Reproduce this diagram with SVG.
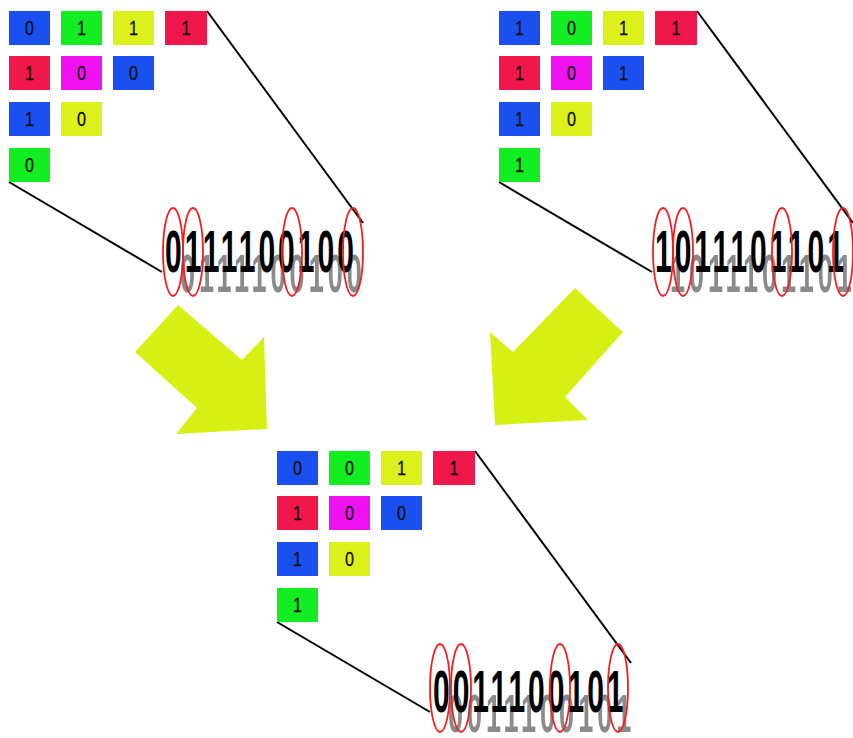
<svg xmlns="http://www.w3.org/2000/svg" width="853" height="738" viewBox="0 0 853 738">
<defs>
<style>
.bl{fill:#1a4ff0}.gr{fill:#12ee22}.ye{fill:#dcf01c}.rd{fill:#f0184a}.mg{fill:#f012f0}
.d{font-family:"Liberation Sans",Arial,sans-serif;font-size:20px;fill:#111;text-anchor:middle;stroke:#111;stroke-width:0.3}
.big{font-family:"Liberation Sans",Arial,sans-serif;font-weight:bold;font-size:60px;fill:#000;letter-spacing:6px}
.sh{font-family:"Liberation Sans",Arial,sans-serif;font-weight:bold;font-size:54px;fill:#8a8a8a;letter-spacing:8px;filter:url(#blur)}
.ln{stroke:#000;stroke-width:2;fill:none}
.el{stroke:#f02020;stroke-width:1.8;fill:none}
.ar{fill:#d6f014}
</style>
<filter id="blur" x="-5%" y="-5%" width="110%" height="110%"><feGaussianBlur stdDeviation="0.6"/></filter>
</defs>
<rect width="853" height="738" fill="#fff"/>

<g id="parent1">
<line class="ln" x1="207" y1="11" x2="363" y2="223"/>
<line class="ln" x1="9" y1="182" x2="162" y2="272"/>
<rect class="bl" x="9" y="11" width="41" height="34"/><text class="d" x="29.5" y="35" textLength="9" lengthAdjust="spacingAndGlyphs">0</text>
<rect class="gr" x="61" y="11" width="41" height="34"/><text class="d" x="81.5" y="35" textLength="9" lengthAdjust="spacingAndGlyphs">1</text>
<rect class="ye" x="113" y="11" width="41" height="34"/><text class="d" x="133.5" y="35" textLength="9" lengthAdjust="spacingAndGlyphs">1</text>
<rect class="rd" x="165" y="11" width="42" height="34"/><text class="d" x="186" y="35" textLength="9" lengthAdjust="spacingAndGlyphs">1</text>
<rect class="rd" x="9" y="56" width="41" height="34"/><text class="d" x="29.5" y="80" textLength="9" lengthAdjust="spacingAndGlyphs">1</text>
<rect class="mg" x="61" y="56" width="41" height="34"/><text class="d" x="81.5" y="80" textLength="9" lengthAdjust="spacingAndGlyphs">0</text>
<rect class="bl" x="113" y="56" width="41" height="34"/><text class="d" x="133.5" y="80" textLength="9" lengthAdjust="spacingAndGlyphs">0</text>
<rect class="bl" x="9" y="102" width="41" height="34"/><text class="d" x="29.5" y="126" textLength="9" lengthAdjust="spacingAndGlyphs">1</text>
<rect class="ye" x="61" y="102" width="41" height="34"/><text class="d" x="81.5" y="126" textLength="9" lengthAdjust="spacingAndGlyphs">0</text>
<rect class="gr" x="9" y="148" width="41" height="34"/><text class="d" x="29.5" y="172" textLength="9" lengthAdjust="spacingAndGlyphs">0</text>
<text class="sh" transform="translate(180,292) scale(0.5,1)">0111100100</text>
<text class="big" transform="translate(165,272) scale(0.5,1)">0111100100</text>
<ellipse class="el" cx="173" cy="252" rx="10" ry="44"/>
<ellipse class="el" cx="193" cy="252" rx="10" ry="44"/>
<ellipse class="el" cx="292" cy="252" rx="10" ry="44"/>
<ellipse class="el" cx="353" cy="252" rx="10" ry="44"/>
</g>

<g id="parent2" transform="translate(490,0)">
<line class="ln" x1="207" y1="11" x2="363" y2="223"/>
<line class="ln" x1="9" y1="182" x2="162" y2="272"/>
<rect class="bl" x="9" y="11" width="41" height="34"/><text class="d" x="29.5" y="35" textLength="9" lengthAdjust="spacingAndGlyphs">1</text>
<rect class="gr" x="61" y="11" width="41" height="34"/><text class="d" x="81.5" y="35" textLength="9" lengthAdjust="spacingAndGlyphs">0</text>
<rect class="ye" x="113" y="11" width="41" height="34"/><text class="d" x="133.5" y="35" textLength="9" lengthAdjust="spacingAndGlyphs">1</text>
<rect class="rd" x="165" y="11" width="42" height="34"/><text class="d" x="186" y="35" textLength="9" lengthAdjust="spacingAndGlyphs">1</text>
<rect class="rd" x="9" y="56" width="41" height="34"/><text class="d" x="29.5" y="80" textLength="9" lengthAdjust="spacingAndGlyphs">1</text>
<rect class="mg" x="61" y="56" width="41" height="34"/><text class="d" x="81.5" y="80" textLength="9" lengthAdjust="spacingAndGlyphs">0</text>
<rect class="bl" x="113" y="56" width="41" height="34"/><text class="d" x="133.5" y="80" textLength="9" lengthAdjust="spacingAndGlyphs">1</text>
<rect class="bl" x="9" y="102" width="41" height="34"/><text class="d" x="29.5" y="126" textLength="9" lengthAdjust="spacingAndGlyphs">1</text>
<rect class="ye" x="61" y="102" width="41" height="34"/><text class="d" x="81.5" y="126" textLength="9" lengthAdjust="spacingAndGlyphs">0</text>
<rect class="gr" x="9" y="148" width="41" height="34"/><text class="d" x="29.5" y="172" textLength="9" lengthAdjust="spacingAndGlyphs">1</text>
<text class="sh" transform="translate(180,292) scale(0.5,1)">1011101101</text>
<text class="big" transform="translate(165,272) scale(0.5,1)">1011101101</text>
<ellipse class="el" cx="173" cy="252" rx="10" ry="44"/>
<ellipse class="el" cx="193" cy="252" rx="10" ry="44"/>
<ellipse class="el" cx="292" cy="252" rx="10" ry="44"/>
<ellipse class="el" cx="353" cy="252" rx="10" ry="44"/>
</g>

<g id="child" transform="translate(268,440)">
<line class="ln" x1="207" y1="11" x2="363" y2="223"/>
<line class="ln" x1="9" y1="182" x2="162" y2="272"/>
<rect class="bl" x="9" y="11" width="41" height="34"/><text class="d" x="29.5" y="35" textLength="9" lengthAdjust="spacingAndGlyphs">0</text>
<rect class="gr" x="61" y="11" width="41" height="34"/><text class="d" x="81.5" y="35" textLength="9" lengthAdjust="spacingAndGlyphs">0</text>
<rect class="ye" x="113" y="11" width="41" height="34"/><text class="d" x="133.5" y="35" textLength="9" lengthAdjust="spacingAndGlyphs">1</text>
<rect class="rd" x="165" y="11" width="42" height="34"/><text class="d" x="186" y="35" textLength="9" lengthAdjust="spacingAndGlyphs">1</text>
<rect class="rd" x="9" y="56" width="41" height="34"/><text class="d" x="29.5" y="80" textLength="9" lengthAdjust="spacingAndGlyphs">1</text>
<rect class="mg" x="61" y="56" width="41" height="34"/><text class="d" x="81.5" y="80" textLength="9" lengthAdjust="spacingAndGlyphs">0</text>
<rect class="bl" x="113" y="56" width="41" height="34"/><text class="d" x="133.5" y="80" textLength="9" lengthAdjust="spacingAndGlyphs">0</text>
<rect class="bl" x="9" y="102" width="41" height="34"/><text class="d" x="29.5" y="126" textLength="9" lengthAdjust="spacingAndGlyphs">1</text>
<rect class="ye" x="61" y="102" width="41" height="34"/><text class="d" x="81.5" y="126" textLength="9" lengthAdjust="spacingAndGlyphs">0</text>
<rect class="gr" x="9" y="148" width="41" height="34"/><text class="d" x="29.5" y="172" textLength="9" lengthAdjust="spacingAndGlyphs">1</text>
<text class="sh" transform="translate(180,292) scale(0.5,1)">0011100101</text>
<text class="big" transform="translate(165,272) scale(0.5,1)">0011100101</text>
<ellipse class="el" cx="172" cy="248" rx="10" ry="44"/>
<ellipse class="el" cx="193" cy="248" rx="10" ry="44"/>
<ellipse class="el" cx="292" cy="248" rx="10" ry="44"/>
<ellipse class="el" cx="350" cy="248" rx="10" ry="44"/>
</g>

<g id="connectors">
<polygon class="ar" points="178,305 242,360 264,337 267,429 176,434 197,408 135,352"/>
<polygon class="ar" points="575,288 623,332 565,397 588,420 495,425 490,332 513,352"/>
</g>
</svg>
